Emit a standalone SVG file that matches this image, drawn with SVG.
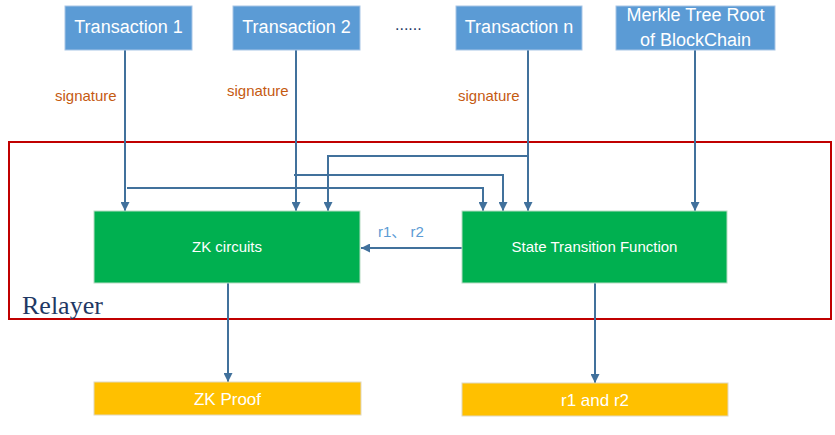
<svg xmlns="http://www.w3.org/2000/svg" width="835" height="435" viewBox="0 0 835 435">
<style>
.blue{fill:#5b9bd5;stroke:#a8c5e6;stroke-width:1}
.green{fill:#00b050;stroke:#b8dcc4;stroke-width:1}
.yellow{fill:#ffc000;stroke:#e0d8c0;stroke-width:1}
.t{font-family:"Liberation Sans",Arial,sans-serif;fill:#ffffff;text-anchor:middle}
.sig{font-family:"Liberation Sans",Arial,sans-serif;fill:#c55a11;font-size:15px}
.conn{fill:none;stroke:#41719c;stroke-width:2}
</style>
<defs>
<marker id="arr" viewBox="0 0 10 10" refX="10" refY="5" markerWidth="5.5" markerHeight="4.5" orient="auto" markerUnits="strokeWidth">
<path d="M0,0 L10,5 L0,10 z" fill="#41719c"/>
</marker>
</defs>
<rect width="835" height="435" fill="#ffffff"/>
<g id="relayer">
<rect x="9" y="142" width="822" height="177" fill="none" stroke="#c00000" stroke-width="2"/>
<text x="22" y="314" font-family="'Liberation Serif','Times New Roman',serif" font-size="26" fill="#1f3864">Relayer</text>
</g>
<g id="connectors">
<path class="conn" d="M125,50 V211" marker-end="url(#arr)"/>
<path class="conn" d="M296,50 V211" marker-end="url(#arr)"/>
<path class="conn" d="M528,50 V211" marker-end="url(#arr)"/>
<path class="conn" d="M695,50 V211" marker-end="url(#arr)"/>
<path class="conn" d="M127,188 H483 V211" marker-end="url(#arr)"/>
<path class="conn" d="M294,175 H503 V211" marker-end="url(#arr)"/>
<path class="conn" d="M528,156 H328 V211" marker-end="url(#arr)"/>
<path class="conn" d="M462,248 H361" marker-end="url(#arr)"/>
<path class="conn" d="M228,283 V382" marker-end="url(#arr)"/>
<path class="conn" d="M595,283 V383" marker-end="url(#arr)"/>
<text class="sig" x="55" y="101">signature</text>
<text class="sig" x="227" y="96">signature</text>
<text class="sig" x="458" y="101">signature</text>
<text x="378" y="237" font-family="'Liberation Sans','Noto Sans CJK SC',sans-serif" font-size="15" fill="#5b9bd5">r1、 r2</text>
</g>
<g id="tx1">
<rect class="blue" x="65" y="6" width="127" height="44"/>
<text class="t" x="128.5" y="33" font-size="18">Transaction 1</text>
</g>
<g id="tx2">
<rect class="blue" x="233" y="6" width="127" height="44"/>
<text class="t" x="296.5" y="33" font-size="18">Transaction 2</text>
</g>
<g id="dots">
<text x="395" y="30" font-family="'Liberation Sans',Arial,sans-serif" font-size="16" fill="#1f3864">......</text>
</g>
<g id="txn">
<rect class="blue" x="456" y="6" width="126" height="44"/>
<text class="t" x="519" y="33" font-size="18">Transaction n</text>
</g>
<g id="merkle">
<rect class="blue" x="616" y="6" width="159" height="44"/>
<text class="t" x="695.5" y="21" font-size="18">Merkle Tree Root</text>
<text class="t" x="695.5" y="46" font-size="18">of BlockChain</text>
</g>
<g id="zk">
<rect class="green" x="94" y="211" width="266" height="72"/>
<text class="t" x="227" y="252" font-size="15">ZK circuits</text>
</g>
<g id="stf">
<rect class="green" x="462" y="211" width="265" height="72"/>
<text class="t" x="594.5" y="252" font-size="15">State Transition Function</text>
</g>
<g id="zkproof">
<rect class="yellow" x="94" y="382" width="267" height="33"/>
<text class="t" x="227.5" y="405" font-size="17">ZK Proof</text>
</g>
<g id="r1r2">
<rect class="yellow" x="462" y="383" width="266" height="33"/>
<text class="t" x="595" y="406" font-size="17">r1 and r2</text>
</g>
</svg>
